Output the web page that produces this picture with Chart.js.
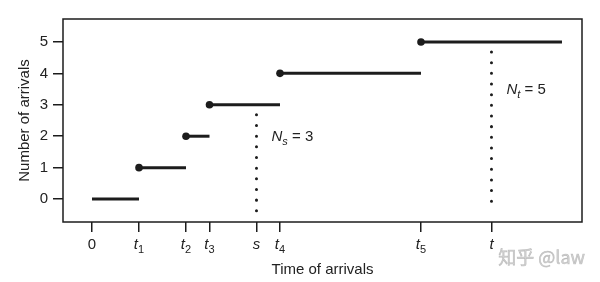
<!DOCTYPE html>
<html>
<head>
<meta charset="utf-8">
<script src="https://cdn.jsdelivr.net/npm/chart.js@4"></script>
<style>
  html, body { margin: 0; padding: 0; background: #fff; }
  #wrap { width: 600px; height: 282px; }
</style>
</head>
<body>
<div id="wrap"><canvas id="chart"></canvas></div>
<script>
// arrival times t0 = 0, t1..t5, and the count after each arrival
const arrivalTimes = [0, 1, 2, 2.5, 4, 7];
const counts = [0, 1, 2, 3, 4, 5];
const endTime = 10;
// observation times s and t with N_s, N_t
const obsNames = ['s', 't'];
const obsTimes = [3.5, 8.5];
const obsCounts = [3, 5];
// axis ticks
const xTickValues = [0, 1, 2, 2.5, 3.5, 4, 7, 8.5];
const xTickLabels = [['0', ''], ['t', '1'], ['t', '2'], ['t', '3'], ['s', ''], ['t', '4'], ['t', '5'], ['t', '']];
const yTickValues = [0, 1, 2, 3, 4, 5];

const ink = '#1c1c1c';
const txt = '#222';
const family = '"Liberation Sans", Arial, Helvetica, sans-serif';

const datasets = [];
counts.forEach((n, k) => {
  const x1 = k + 1 < arrivalTimes.length ? arrivalTimes[k + 1] : endTime;
  datasets.push({
    data: [{ x: arrivalTimes[k], y: n }, { x: x1, y: n }],
    borderColor: ink,
    backgroundColor: ink,
    borderWidth: 3,
    borderCapStyle: 'butt',
    pointRadius: [k === 0 ? 0 : 3.8, 0],
    pointBorderWidth: 0,
    pointHoverRadius: 0
  });
});
// dotted verticals under s and t
obsTimes.forEach((xv, i) => {
  datasets.push({
    data: [{ x: xv, y: obsCounts[i] - 0.32 }, { x: xv, y: -0.38 }],
    borderColor: ink,
    borderWidth: 3,
    borderDash: [0.01, 10.65],
    borderCapStyle: 'round',
    pointRadius: 0
  });
});

function drawMath(ctx, x, y, parts) {
  // parts: [text, size, italic, baselineShift]
  let px = x;
  parts.forEach(([s, size, italic, dy]) => {
    ctx.font = (italic ? 'italic ' : '') + size + 'px ' + family;
    ctx.fillText(s, px, y + dy);
    px += ctx.measureText(s).width;
  });
}
function mathWidth(ctx, parts) {
  let w = 0;
  parts.forEach(([s, size, italic]) => {
    ctx.font = (italic ? 'italic ' : '') + size + 'px ' + family;
    w += ctx.measureText(s).width;
  });
  return w;
}

const overlay = {
  id: 'overlay',
  afterDatasetsDraw(chart) {
    const { ctx, chartArea: a, scales: { x, y } } = chart;
    ctx.save();
    ctx.strokeStyle = ink;
    ctx.lineWidth = 1.5;
    ctx.strokeRect(a.left, a.top, a.right - a.left, a.bottom - a.top);

    ctx.fillStyle = txt;
    ctx.textAlign = 'left';
    ctx.textBaseline = 'alphabetic';
    // x tick labels with subscripts
    xTickValues.forEach((v, i) => {
      const [main, sub] = xTickLabels[i];
      const parts = [[main, 15, main !== '0', 0]];
      if (sub) parts.push([sub, 11, false, 4]);
      const w = mathWidth(ctx, parts);
      drawMath(ctx, x.getPixelForValue(v) - w / 2, a.bottom + 27, parts);
    });
    // N_s = 3, N_t = 5
    const rows = [2, 3.5];
    obsTimes.forEach((v, i) => {
      drawMath(ctx, x.getPixelForValue(v) + 15, y.getPixelForValue(rows[i]) + 5, [
        ['N', 15, true, 0], [obsNames[i], 11, true, 4], [' = ' + obsCounts[i], 15, false, 0]
      ]);
    });
    // watermark
    ctx.font = '18px "Noto Sans CJK SC", ' + family;
    ctx.textAlign = 'right';
    ctx.fillStyle = '#d4d4d4';
    ctx.strokeStyle = 'rgba(140,140,140,0.45)';
    ctx.lineWidth = 0.6;
    ctx.fillText('知乎 @law', 585, 264);
    ctx.strokeText('知乎 @law', 585, 264);
    ctx.restore();
  }
};

const gridOpts = { drawOnChartArea: false, drawTicks: true, tickLength: 10, color: ink, lineWidth: 1.5 };

new Chart(document.getElementById('chart'), {
  type: 'line',
  data: { datasets },
  options: {
    responsive: true,
    maintainAspectRatio: false,
    animation: false,
    events: [],
    layout: { padding: { top: 19, right: 18, left: 0, bottom: 0 } },
    plugins: { legend: { display: false }, tooltip: { enabled: false } },
    scales: {
      x: {
        type: 'linear',
        min: -0.617,
        max: 10.426,
        afterBuildTicks: s => { s.ticks = xTickValues.map(v => ({ value: v })); },
        afterFit: s => { s.height = 60; },
        grid: gridOpts,
        border: { display: false },
        ticks: { callback: () => '', font: { family, size: 15 } },
        title: { display: true, text: 'Time of arrivals', color: txt, font: { family, size: 15 }, padding: { bottom: 3 } }
      },
      y: {
        type: 'linear',
        min: -0.73,
        max: 5.73,
        afterBuildTicks: s => { s.ticks = yTickValues.map(v => ({ value: v })); },
        afterFit: s => { s.width = 63; },
        grid: gridOpts,
        border: { display: false },
        ticks: { color: txt, font: { family, size: 15 }, padding: 5, callback: v => String(v) },
        title: { display: true, text: 'Number of arrivals', color: txt, font: { family, size: 15 }, padding: { top: 16 } }
      }
    }
  },
  plugins: [overlay]
});
</script>
</body>
</html>
